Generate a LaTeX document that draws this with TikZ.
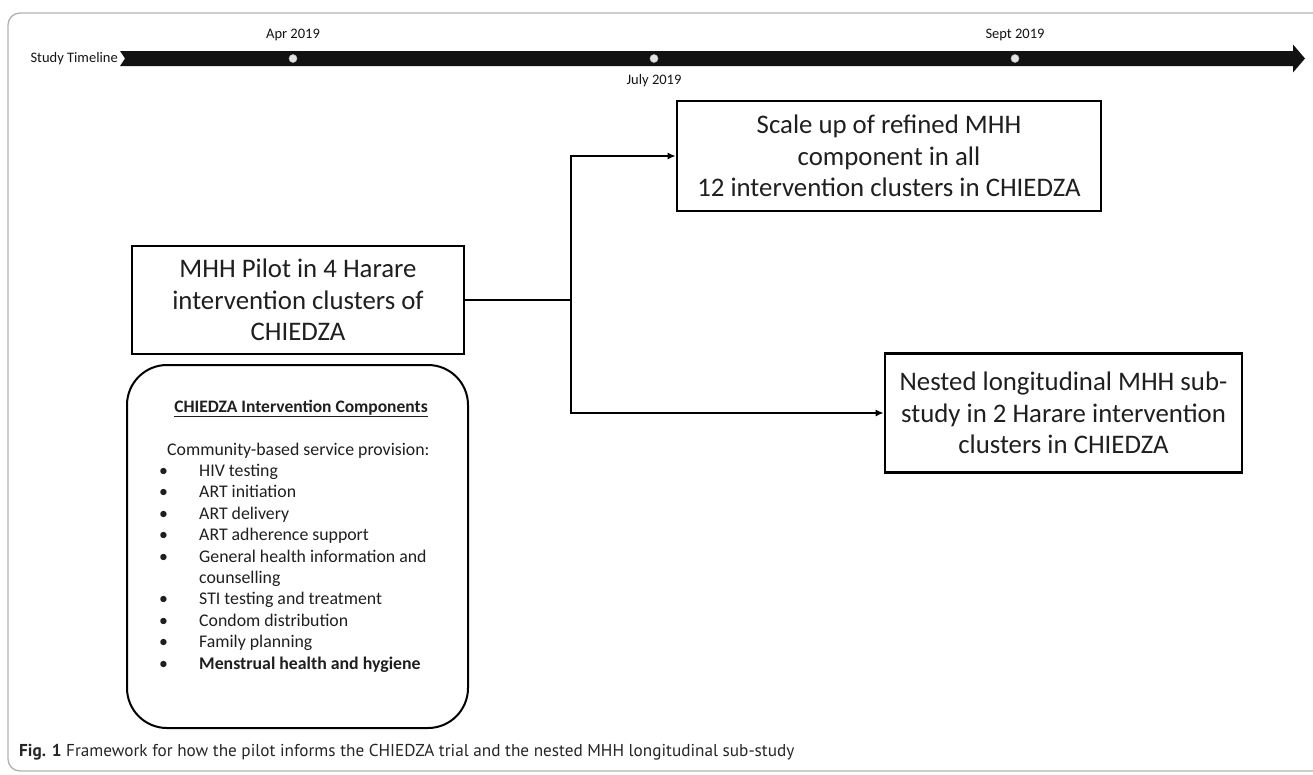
\documentclass[tikz,border=0pt]{standalone}
\usepackage{fontspec}
\setmainfont{Carlito}
\newfontfamily\capfont{PT Sans}
\usetikzlibrary{arrows.meta}
\begin{document}
\begin{tikzpicture}[x=1pt,y=-1pt,
  flowbox/.style={draw=black, line width=2.6pt, fill=white, align=center,
    font=\fontsize{26.8}{31.5}\selectfont, inner sep=0pt, text=black!88},
  compbox/.style={draw=black, line width=2pt, rounded corners=40pt, inner sep=0pt},
  conn/.style={line width=2.6pt, line join=miter},
  arr/.style={conn, -{Latex[length=8pt,width=7pt]}},
  tllabel/.style={font=\fontsize{14.5}{17}\selectfont, text=black!92, inner sep=0pt},
  tldot/.style={circle, fill=gray!22, draw=gray!55, line width=0.5pt, minimum size=8pt, inner sep=0pt},
  listtext/.style={font=\fontsize{17.8}{21.4}\selectfont, text=black!88, inner sep=0pt}
]
\useasboundingbox (0,0) rectangle (1313,774);
\clip (0,0) rectangle (1313,774);
\fill[white] (0,0) rectangle (1313,774);
% outer frame
\draw[gray!60, line width=1.3pt, rounded corners=12pt] (8,13) rectangle (1360,771);

% timeline
\fill[black!93] (120,51) -- (1293,51) -- (1293,44.5) -- (1305,58.5) -- (1293,72.5)
  -- (1293,66) -- (120,66) -- (125,58.5) -- cycle;
\node[tldot] (d1) at (293,58.5) {};
\node[tldot] (d2) at (654,58.5) {};
\node[tldot] (d3) at (1015,58.5) {};
\node[tllabel, anchor=east] (tl) at (118,58.5) {Study Timeline};
\node[tllabel] (apr) at (293,35) {Apr 2019};
\node[tllabel] (jul) at (654,81) {July 2019};
\node[tllabel] (sep) at (1015,35) {Sept 2019};

% boxes
\node[flowbox, minimum width=332pt, minimum height=108pt] (pilot) at (298,300)
  {MHH Pilot in 4 Harare\\intervention clusters of\\CHIEDZA};
\node[flowbox, minimum width=424pt, minimum height=110pt] (scale) at (889,156)
  {Scale up of refined MHH\\component in all\\12 intervention clusters in CHIEDZA};
\node[flowbox, minimum width=357pt, minimum height=119pt] (nested) at (1063.5,413)
  {Nested longitudinal MHH sub-\\study in 2 Harare intervention\\clusters in CHIEDZA};

% connectors
\coordinate (j) at (571,300);
\draw[conn] (pilot.east) -- (j);
\draw[arr] (j) |- (scale.west);
\draw[arr] (j) |- (nested.west);

% components box
\node[compbox, minimum width=341pt, minimum height=363pt] (comp) at (297.5,546.5) {};
\node[listtext, font=\bfseries\fontsize{17.5}{21}\selectfont, anchor=base] (comptitle) at (301,412)
  {\underline{CHIEDZA Intervention Components}};
\node[listtext, anchor=base west, align=left] (complist) at (167,669)
  {Community-based service provision:\\
   \hspace*{-8pt}\makebox[40pt][l]{\textbullet}HIV testing\\
   \hspace*{-8pt}\makebox[40pt][l]{\textbullet}ART initiation\\
   \hspace*{-8pt}\makebox[40pt][l]{\textbullet}ART delivery\\
   \hspace*{-8pt}\makebox[40pt][l]{\textbullet}ART adherence support\\
   \hspace*{-8pt}\makebox[40pt][l]{\textbullet}General health information and\\
   \hspace*{32pt}counselling\\
   \hspace*{-8pt}\makebox[40pt][l]{\textbullet}STI testing and treatment\\
   \hspace*{-8pt}\makebox[40pt][l]{\textbullet}Condom distribution\\
   \hspace*{-8pt}\makebox[40pt][l]{\textbullet}Family planning\\
   \hspace*{-8pt}\makebox[40pt][l]{\textbullet}\textbf{Menstrual health and hygiene}};

% caption
\node[anchor=base west, inner sep=0pt, text=black!85, font=\capfont\fontsize{17.2}{20}\selectfont] (caption) at (19,756)
  {\textbf{Fig. 1} Framework for how the pilot informs the CHIEDZA trial and the nested MHH longitudinal sub-study};
\end{tikzpicture}
\end{document}
